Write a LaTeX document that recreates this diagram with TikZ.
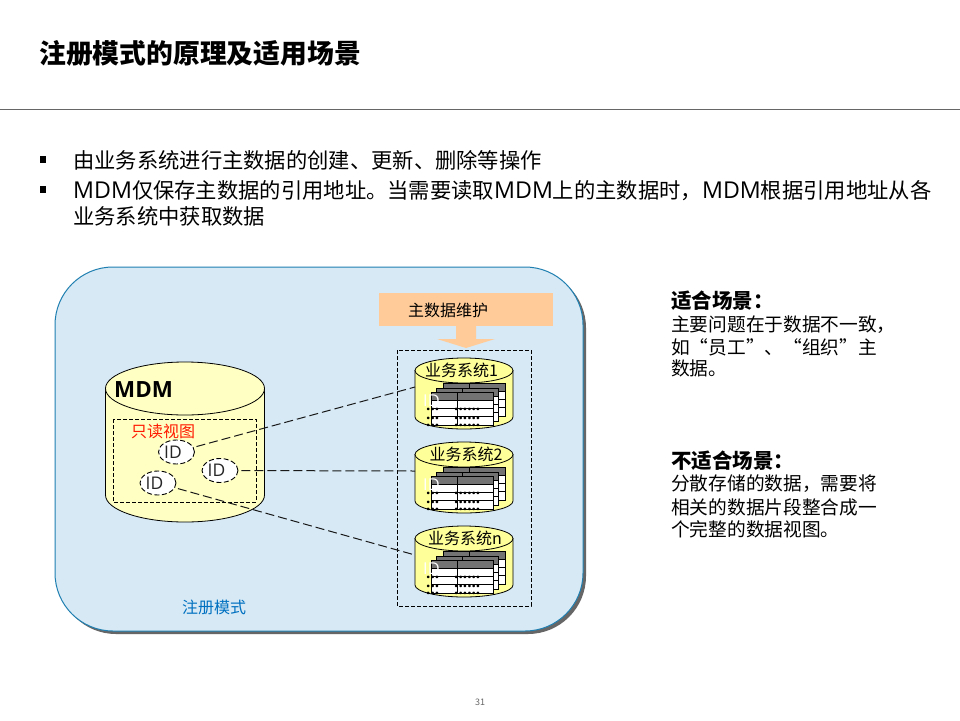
\documentclass[tikz,border=0pt]{standalone}
\usepackage{fontspec}
\setmainfont{Noto Sans CJK SC}
\newfontfamily\latinf[Scale=1.09]{Open Sans}
\usetikzlibrary{shapes.geometric}
\newcommand{\fs}[1]{\fontsize{#1}{#1}\selectfont}
\newcommand{\lat}[1]{{\latinf #1}}
\definecolor{panelfill}{HTML}{D6E9F5}
\definecolor{panelline}{HTML}{1F7FB0}
\definecolor{cylfill}{HTML}{FFFFC4}
\definecolor{cylmini}{HTML}{FFFF99}
\definecolor{peach}{HTML}{FFCC99}
\definecolor{modeblue}{HTML}{0070C0}
\tikzset{
  txt/.style={inner sep=0pt,anchor=west,text=black},
  bodytext/.style={txt,font=\fs{21.3}},
  sidetext/.style={txt,font=\fs{18.7}},
  sidehead/.style={txt,font=\fs{20.5}\bfseries},
  idnode/.style={ellipse,draw=black,dash pattern=on 5pt off 2.5pt,fill=white,line width=0.9pt,minimum width=36pt,minimum height=24pt,inner sep=0pt,font=\fs{16},text=black!85},
  link/.style={draw=black!90,dash pattern=on 9pt off 4pt,line width=1pt,shorten <=3pt},
  dashbox/.style={draw=black,dash pattern=on 4pt off 2pt,line width=0.9pt},
  cyl/.style={draw=black,line width=0.8pt},
  dots/.style={inner sep=0pt,anchor=west,font=\fs{14}\bfseries,text=black}
}
\newcommand{\minitable}[2]{%
  \begin{scope}[shift={(#1,#2)}]
    \fill[white] (0,0) rectangle (62,33);
    \fill[black!55] (0,0) rectangle (62,8);
    \draw[black,line width=0.7pt] (0,0) rectangle (62,33)
      (0,8) -- (62,8) (0,16) -- (62,16) (0,24) -- (62,24) (26,0) -- (26,33);
  \end{scope}}
\newcommand{\minisys}[4]{% name, y of top, label, label centre x
  \begin{scope}[shift={(0,#2)}]
    \path[fill=cylmini,cyl] (415,12.5) -- (415,59) arc[x radius=49,y radius=12,start angle=180,end angle=0] -- (513,12.5) -- cycle;
    \path[fill=cylmini,cyl] (464,12.5) ellipse[x radius=49,y radius=12.5];
    \coordinate (#1) at (415,29);
    \node[inner sep=0pt,font=\fs{16},text=black] (#1label) at (#4,12.5) {#3};
    \minitable{443}{25}
    \minitable{436}{30}
    \minitable{431}{34}
    \node[inner sep=0pt,anchor=west,font=\fs{15},text=white] (#1id) at (423,42.5) {\lat{ID}};
    \node[dots] (#1da) at (426,51) {\lat{...}};
    \node[dots] (#1db) at (454,51) {\lat{......}};
    \node[dots] (#1dc) at (426,60) {\lat{...}};
    \node[dots] (#1dd) at (454,60) {\lat{......}};
    \node[dots] (#1de) at (426,67) {\lat{...}};
    \node[dots] (#1df) at (454,67) {\lat{......}};
  \end{scope}}
\begin{document}
\begin{tikzpicture}[x=1pt,y=-1pt]
\useasboundingbox (0,0) rectangle (960,720);
\fill[white] (0,0) rectangle (960,720);
% header
\node[txt,font=\fs{26.8}\bfseries] (title) at (39,53) {注册模式的原理及适用场景};
\coordinate (ruleL) at (0,109.5); \coordinate (ruleR) at (960,109.5);
\draw[black!60,line width=0.8pt] (ruleL) -- (ruleR);
% bullets
\fill[black] (40,156) rectangle (46,163);
\fill[black] (40,186) rectangle (46,193);
\node[bodytext] (b1) at (73,160) {由业务系统进行主数据的创建、更新、删除等操作};
\node[bodytext] (b2) at (73,191) {\lat{MDM}仅保存主数据的引用地址。当需要读取\lat{MDM}上的主数据时，\lat{MDM}根据引用地址从各};
\node[bodytext] (b3) at (73,216) {业务系统中获取数据};
% panel
\fill[black!60,rounded corners=58pt] (58,270) rectangle (586,634);
\draw[panelline,fill=panelfill,line width=1pt,rounded corners=58pt] (55,267) rectangle (583,631);
\node[inner sep=0pt,font=\fs{16},text=modeblue] (mode) at (214,607) {注册模式};
% maintenance banner
\fill[peach] (456,320) -- (476,320) -- (476,339) -- (495,339) -- (466,348) -- (437,339) -- (456,339) -- cycle;
\node[fill=peach,minimum width=174pt,minimum height=33pt,inner sep=0pt] (maint) at (466,309.5) {};
\node[inner sep=0pt,font=\fs{16},text=black] (mainttext) at (448,310) {主数据维护};
% systems box
\draw[dashbox] (397,350) rectangle (531,606);
% MDM cylinder
\path[fill=cylfill,cyl] (105.5,388.5) -- (105.5,495) arc[x radius=79.5,y radius=27,start angle=180,end angle=0] -- (264.5,388.5) -- cycle;
\path[fill=cylfill,cyl] (185,388.5) ellipse[x radius=79.5,y radius=26.5];
\node[txt,font=\fs{20.5}\latinf\bfseries] (mdm) at (114,390) {MDM};
\draw[dashbox] (113,419) rectangle (256,502);
\node[inner sep=0pt,font=\fs{16},text=red!80!orange] (view) at (163,431) {只读视图};
\node[idnode] (id1) at (176.5,452) {\lat{ID}\kern7pt};
\node[idnode] (id2) at (220,470.5) {\lat{ID}\kern7pt};
\node[idnode] (id3) at (158,483) {\lat{ID}\kern7pt};
% systems
\minisys{s1}{358}{业务系统1}{461.5}
\minisys{s2}{442}{业务系统2}{466}
\minisys{s3}{526}{业务系统n}{465}
% links
\draw[link] (id1) -- (s1);
\draw[link] (id2) -- (s2);
\draw[link] (id3) -- (s3);
% right column
\node[sidehead] (h1) at (671,301) {适合场景：};
\node[sidetext] (t1) at (671,325) {主要问题在于数据不一致，};
\node[sidetext] (t2) at (671,347) {如“员工”、“组织”主};
\node[sidetext] (t3) at (671,368) {数据。};
\node[sidehead] (h2) at (671,461) {不适合场景：};
\node[sidetext] (t4) at (671,484) {分散存储的数据，需要将};
\node[sidetext] (t5) at (671,507) {相关的数据片段整合成一};
\node[sidetext] (t6) at (671,529) {个完整的数据视图。};
% page number
\node[inner sep=0pt,font=\fs{9},text=black!60] (pg) at (480,702) {31};
\end{tikzpicture}
\end{document}
